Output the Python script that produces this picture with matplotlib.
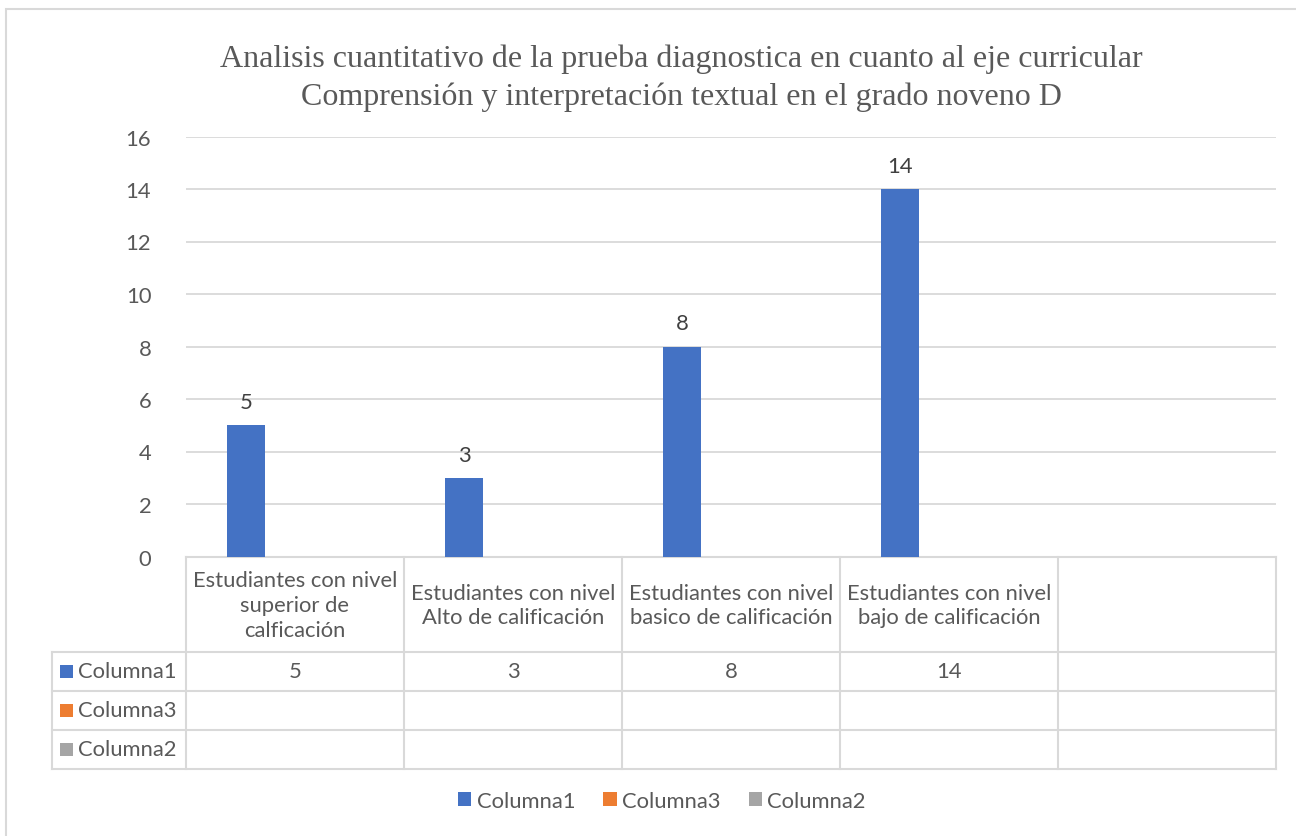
import matplotlib
matplotlib.use("Agg")
import matplotlib.pyplot as plt
from matplotlib.transforms import blended_transform_factory
from matplotlib.patches import Rectangle

categories = ["Estudiantes con nivel\nsuperior de\ncalficación",
              "Estudiantes con nivel\nAlto de calificación",
              "Estudiantes con nivel\nbasico de calificación",
              "Estudiantes con nivel\nbajo de calificación",
              ""]
series_names = ["Columna1", "Columna3", "Columna2"]
columna1 = [5, 3, 8, 14, None]
columna3 = [None, None, None, None, None]
columna2 = [None, None, None, None, None]
series_values = [columna1, columna3, columna2]
colors = ["#4472C4", "#ED7D31", "#A5A5A5"]
yticks = [0, 2, 4, 6, 8, 10, 12, 14, 16]
title = "Analisis cuantitativo de la prueba diagnostica en cuanto al eje curricular\nComprensión y interpretación textual en el grado noveno D"

W, H = 1296, 837
fig = plt.figure(figsize=(W / 100, H / 100), dpi=100)
fig.patch.set_facecolor("white")

TXT = "#595959"
GRID = "#D9D9D9"
SANS = ["Lato", "DejaVu Sans"]
FS = 15.8

# outer border
fig.add_artist(Rectangle((6 / W, 0 - 0.01), 1.1, 1 - 10 / H + 0.01, transform=fig.transFigure,
                         fill=False, edgecolor=GRID, linewidth=1.5))

left, right, top, bottom = 186, 1276, 137.5, 557.5
ax = fig.add_axes([left / W, 1 - bottom / H, (right - left) / W, (bottom - top) / H])
n = len(categories)
ax.set_xlim(-0.5, n - 0.5)
ax.set_ylim(0, 16)
for s in ax.spines.values():
    s.set_visible(False)
ax.set_yticks(yticks)
ax.set_yticklabels([str(t) for t in yticks], fontsize=FS, color=TXT, family=SANS)
ax.tick_params(axis="y", length=0, pad=25)
ax.set_xticks([])
ax.yaxis.grid(True, color=GRID, linewidth=1.3)
ax.set_axisbelow(True)

bw = 38 / 218
for si, (vals, col) in enumerate(zip(series_values, colors)):
    off = (si - 1) * bw - 0.05
    for i, v in enumerate(vals):
        if v is None:
            continue
        x = i + off
        ax.bar(x, v, width=bw, color=col, zorder=3)
        ax.text(x, v + 0.5, str(v), ha="center", va="bottom", fontsize=FS,
                color="#404040", family=SANS)

# data table
tr = blended_transform_factory(ax.transData, ax.transAxes)
ph = bottom - top
def ay(p):
    return (bottom - p) / ph
rows_px = [653, 692, 731, 769.5]
xl = -0.5 - 134 / 218
kw = dict(color=GRID, linewidth=1.5, transform=tr, clip_on=False, zorder=1)
ax.plot([-0.5, n - 0.5], [0, 0], **kw)
for p in rows_px:
    ax.plot([xl, n - 0.5], [ay(p), ay(p)], **kw)
for i in range(n + 1):
    ax.plot([i - 0.5, i - 0.5], [0, ay(rows_px[-1])], **kw)
ax.plot([xl, xl], [ay(rows_px[0]), ay(rows_px[-1])], **kw)

for i, c in enumerate(categories):
    ax.text(i, ay(606), c, transform=tr, ha="center", va="center", fontsize=FS,
            color=TXT, family=SANS, linespacing=1.3)

for r, (name, vals, col) in enumerate(zip(series_names, series_values, colors)):
    yc = ay((rows_px[r] + rows_px[r + 1]) / 2)
    ax.add_patch(Rectangle((xl + 8 / 218, yc - 6.5 / ph), 13 / 218, 13 / ph, transform=tr,
                           facecolor=col, edgecolor="none", clip_on=False))
    ax.text(xl + 26 / 218, yc, name, transform=tr, ha="left", va="center", fontsize=FS,
            color=TXT, family=SANS)
    for i, v in enumerate(vals):
        if v is not None:
            ax.text(i, yc, str(v), transform=tr, ha="center", va="center", fontsize=FS,
                    color=TXT, family=SANS)

# legend
handles = [Rectangle((0, 0), 1, 1, facecolor=c, edgecolor="none") for c in colors]
fig.legend(handles, series_names, loc="center", bbox_to_anchor=(662 / W, 1 - 802 / H),
           ncol=3, frameon=False, prop={"family": SANS, "size": FS},
           handlelength=0.6, handleheight=0.6, handletextpad=0.25, columnspacing=1.28,
           labelcolor=TXT)

fig.text(681 / W, 1 - 78 / H, title, ha="center", va="center", fontsize=23,
         family=["Liberation Serif"], color=TXT, linespacing=1.37)

fig.savefig("out.png", dpi=100, facecolor="white")
